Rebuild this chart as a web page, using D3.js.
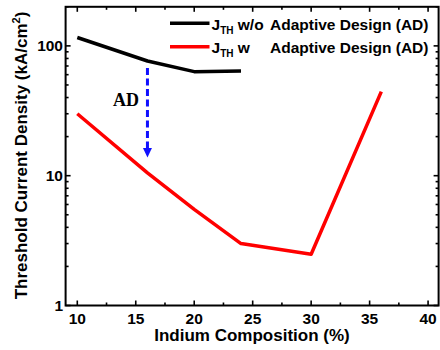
<!DOCTYPE html>
<html>
<head>
<meta charset="utf-8">
<script src="https://cdn.jsdelivr.net/npm/d3@7"></script>
<style>
  html, body { margin: 0; padding: 0; background: #fff; }
  svg { display: block; }
  text { font-family: "Liberation Sans", Arial, sans-serif; font-weight: bold; fill: #000; }
</style>
</head>
<body>
<svg id="chart" width="440" height="350"></svg>
<script>
// data
const indiumWithout = [10, 16, 20, 24];
const jthWithout = [116, 76.5, 63.3, 64.1];
const indiumWith = [10, 16, 20, 24, 30, 36];
const jthWith = [30, 10.5, 5.5, 3.0, 2.48, 44.4];

const xTicks = [10, 15, 20, 25, 30, 35, 40];
const xMinorTicks = [12.5, 17.5, 22.5, 27.5, 32.5, 37.5];
const yTicks = [1, 10, 100];
const yMinorTicks = [2, 3, 4, 5, 6, 7, 8, 9, 20, 30, 40, 50, 60, 70, 80, 90, 200];

const svg = d3.select('#chart');

const x = d3.scaleLinear().domain([9, 40.9]).range([65.6, 438.6]);
const y = d3.scaleLog().domain([1, 200]).range([305.5, 6.8]);

const plotLeft = x.range()[0], plotRight = x.range()[1];
const plotTop = y.range()[1], plotBottom = y.range()[0];

// ticks (all point inward)
const tickG = svg.append('g').attr('stroke', '#000').attr('stroke-width', 1.6);
function xTickLines(vals, len) {
  vals.forEach(v => {
    tickG.append('line').attr('x1', x(v)).attr('x2', x(v)).attr('y1', plotBottom).attr('y2', plotBottom - len);
    tickG.append('line').attr('x1', x(v)).attr('x2', x(v)).attr('y1', plotTop).attr('y2', plotTop + len);
  });
}
function yTickLines(vals, len) {
  vals.forEach(v => {
    tickG.append('line').attr('y1', y(v)).attr('y2', y(v)).attr('x1', plotLeft).attr('x2', plotLeft + len);
    tickG.append('line').attr('y1', y(v)).attr('y2', y(v)).attr('x1', plotRight).attr('x2', plotRight - len);
  });
}
xTickLines(xTicks, 5);
xTickLines(xMinorTicks, 3);
yTickLines(yTicks, 5);
yTickLines(yMinorTicks, 3);

// frame
svg.append('rect')
  .attr('x', plotLeft).attr('y', plotTop)
  .attr('width', plotRight - plotLeft).attr('height', plotBottom - plotTop)
  .attr('fill', 'none').attr('stroke', '#000').attr('stroke-width', 2);

// tick labels
svg.append('g').selectAll('text').data(xTicks).enter().append('text')
  .attr('x', d => x(d)).attr('y', 323.5)
  .attr('text-anchor', 'middle').attr('font-size', '15.5px')
  .text(d => d);

svg.append('g').selectAll('text').data(yTicks).enter().append('text')
  .attr('x', 63).attr('y', d => y(d) + 5.6)
  .attr('text-anchor', 'end').attr('font-size', '15.5px')
  .text(d => d);

// axis titles
svg.append('text')
  .attr('x', 252).attr('y', 340.5)
  .attr('text-anchor', 'middle').attr('font-size', '17px')
  .text('Indium Composition (%)');

const yTitle = svg.append('text')
  .attr('transform', 'translate(27,155.5) rotate(-90)')
  .attr('text-anchor', 'middle').attr('font-size', '17px');
yTitle.append('tspan').text('Threshold Current Density (kA/cm');
yTitle.append('tspan').attr('font-size', '11px').attr('dy', -7).text('2');
yTitle.append('tspan').attr('dy', 7).text(')');

// lines
const line = d3.line().x(d => x(d[0])).y(d => y(d[1]));

svg.append('path')
  .datum(d3.zip(indiumWithout, jthWithout))
  .attr('d', line)
  .attr('fill', 'none').attr('stroke', '#000').attr('stroke-width', 3.5)
  .attr('stroke-linejoin', 'round');

svg.append('path')
  .datum(d3.zip(indiumWith, jthWith))
  .attr('d', line)
  .attr('fill', 'none').attr('stroke', '#ff0000').attr('stroke-width', 3.5)
  .attr('stroke-linejoin', 'round');

// AD arrow
svg.append('line')
  .attr('x1', x(16)).attr('x2', x(16))
  .attr('y1', 68).attr('y2', 149)
  .attr('stroke', '#1010ff').attr('stroke-width', 3)
  .attr('stroke-dasharray', '7,3.5');
svg.append('path')
  .attr('d', `M${x(16) - 4.5},148 L${x(16) + 4.5},148 L${x(16)},157.5 Z`)
  .attr('fill', '#1010ff');

svg.append('text')
  .attr('x', 113).attr('y', 106)
  .style('font-family', '"Liberation Serif", "Times New Roman", serif')
  .attr('font-size', '18px')
  .text('AD');

// legend
const legendItems = [
  { color: '#000', label: 'w/o', y: 23.3 },
  { color: '#ff0000', label: 'w', y: 46.7 }
];
const legend = svg.append('g');
legendItems.forEach(item => {
  legend.append('line')
    .attr('x1', 170).attr('x2', 209.5)
    .attr('y1', item.y).attr('y2', item.y)
    .attr('stroke', item.color).attr('stroke-width', 3.5);
  const t = legend.append('text').attr('x', 211.5).attr('y', item.y + 6.5).attr('font-size', '15.5px');
  t.append('tspan').text('J');
  t.append('tspan').attr('font-size', '10px').attr('dy', 4).text('TH');
  t.append('tspan').attr('dy', -4).text(' ' + item.label);
  legend.append('text').attr('x', 270).attr('y', item.y + 6.5).attr('font-size', '15.5px')
    .text('Adaptive Design (AD)');
});
</script>
</body>
</html>
